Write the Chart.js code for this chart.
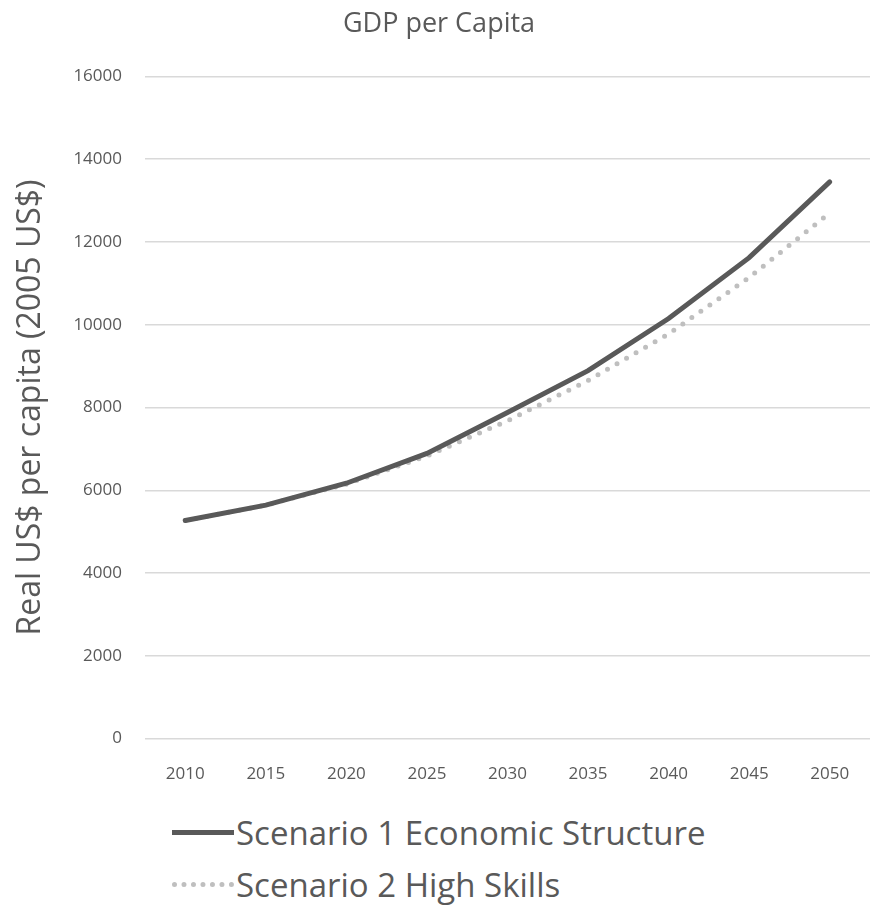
<!DOCTYPE html>
<html>
<head>
<meta charset="utf-8">
<script src="https://cdn.jsdelivr.net/npm/chart.js@4"></script>
<style>
  body { margin: 0; background: #fff; }
  #wrap { position: relative; width: 877px; height: 910px; }
  #box { position: absolute; left: 0; top: 0; width: 877px; height: 801px; }
  #legend { position: absolute; left: 172px; top: 806px; font-family: "Open Sans", sans-serif; font-size: 33px; color: #595959; }
  .row { display: flex; align-items: center; height: 52px; }
  .swatch { width: 62px; margin-right: 2px; }
</style>
</head>
<body>
<div id="wrap">
  <div id="box"><canvas id="myChart"></canvas></div>
  <div id="legend"></div>
</div>
<script>
const years = ['2010', '2015', '2020', '2025', '2030', '2035', '2040', '2045', '2050'];
const scenario1 = [5270, 5640, 6170, 6890, 7880, 8890, 10150, 11620, 13450];
const scenario2 = [5270, 5640, 6150, 6830, 7680, 8650, 9780, 11140, 12700];
const seriesNames = ['Scenario 1 Economic Structure', 'Scenario 2 High Skills'];

const textColor = '#595959';
const font = '"Open Sans", sans-serif';

const config = {
    type: 'line',
    data: {
        labels: years,
        datasets: [{
            label: seriesNames[0],
            data: scenario1,
            borderColor: '#595959',
            borderWidth: 5,
            borderCapStyle: 'round',
            pointRadius: 0,
            tension: 0
        }, {
            label: seriesNames[1],
            data: scenario2,
            borderColor: '#bfbfbf',
            borderWidth: 5,
            borderCapStyle: 'round',
            borderDash: [0, 11],
            pointRadius: 0,
            tension: 0
        }]
    },
    options: {
      responsive: true,
      maintainAspectRatio: false,
      animation: false,
      layout: { padding: { left: 8, right: 7, top: 4, bottom: 0 } },
      plugins: {
        legend: { display: false },
        tooltip: { enabled: false },
        title: {
          display: true,
          text: 'GDP per Capita',
          color: textColor,
          font: { family: font, size: 27, weight: 'normal' },
          padding: { top: 4, bottom: 36 }
        }
      },
      scales: {
        x: {
          offset: true,
          grid: { display: false },
          border: { display: false },
          ticks: { color: textColor, font: { family: font, size: 17 }, padding: 17, maxRotation: 0 }
        },
        y: {
          min: 0,
          max: 16000,
          grid: { color: '#d9d9d9', lineWidth: 1.5, drawTicks: false },
          border: { display: false },
          ticks: {
            stepSize: 2000, color: textColor, font: { family: font, size: 17 }, padding: 23,
            callback: function (v) { return String(v); }
          },
          title: {
            display: true,
            text: 'Real US$ per capita (2005 US$)',
            color: textColor,
            font: { family: font, size: 32 },
            padding: { top: 4, bottom: 0 }
          }
        }
      }
    }
};

var ctx = document.getElementById('myChart').getContext('2d');
var chart = new Chart(ctx, config);

// legend stacked below the chart
var legend = document.getElementById('legend');
chart.data.datasets.forEach(function (ds, i) {
  var row = document.createElement('div');
  row.className = 'row';
  var sw = document.createElement('div');
  sw.className = 'swatch';
  sw.style.borderTop = i === 0 ? '5px solid ' + ds.borderColor : '5px dotted ' + ds.borderColor;
  var txt = document.createElement('span');
  txt.textContent = ds.label;
  row.appendChild(sw);
  row.appendChild(txt);
  legend.appendChild(row);
});
</script>
</body>
</html>
